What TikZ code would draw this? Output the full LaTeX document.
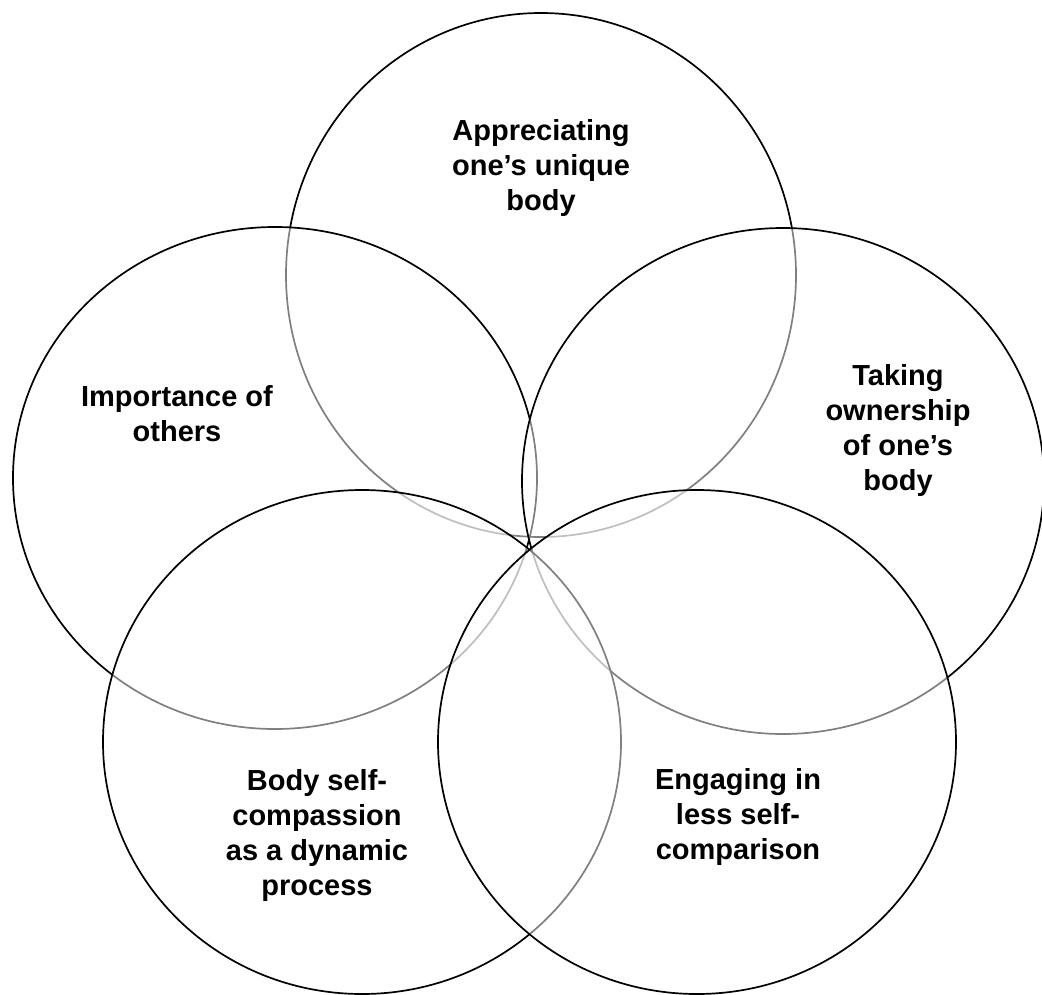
\documentclass[tikz,border=0pt]{standalone}
\usepackage{fontspec}
\setmainfont{Liberation Sans}
\begin{document}
\begin{tikzpicture}[x=1pt,y=-1pt,
  ring/.style={draw=black, line width=1.7pt, fill=white, fill opacity=0.5},
  lbl/.style={font=\bfseries\fontsize{29}{35}\selectfont, align=center, text=black, inner sep=0pt}]
\useasboundingbox (0,0) rectangle (1042,994);
% circles in stacking order
\draw[ring] (541,275) ellipse [x radius=255, y radius=262];
\draw[ring] (275,478) ellipse [x radius=262, y radius=251];
\draw[ring] (783,481) ellipse [x radius=261, y radius=253];
\draw[ring] (362,742) ellipse [x radius=259, y radius=252];
\draw[ring] (697,742) ellipse [x radius=259, y radius=252];
% labels
\node[lbl] (top) at (541,168) {Appreciating\\one’s unique\\body};
\node[lbl] (left) at (177,414) {Importance of\\others};
\node[lbl] (right) at (898,430) {Taking\\ownership\\of one’s\\body};
\node[lbl] (bl) at (317,835) {Body self-\\compassion\\as a dynamic\\process};
\node[lbl] (br) at (738,817) {Engaging in\\less self-\\comparison};
\end{tikzpicture}
\end{document}
